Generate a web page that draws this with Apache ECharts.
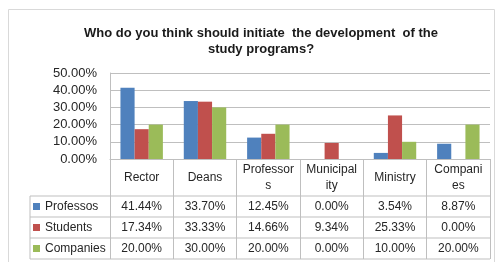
<!DOCTYPE html>
<html>
<head>
<meta charset="utf-8">
<script src="https://cdn.jsdelivr.net/npm/echarts@6/dist/echarts.min.js"></script>
<style>
html, body { margin: 0; padding: 0; background: #fff; }
#chart { width: 495px; height: 262px; }
</style>
</head>
<body>
<div id="chart"></div>
<script>
const categories = ['Rector', 'Deans', 'Professor\ns', 'Municipal\nity', 'Ministry', 'Compani\nes'];
const seriesNames = ['Professos', 'Students', 'Companies'];
const professos = [41.44, 33.70, 12.45, 0.00, 3.54, 8.87];
const students = [17.34, 33.33, 14.66, 9.34, 25.33, 0.00];
const companies = [20.00, 30.00, 20.00, 0.00, 10.00, 20.00];
const yTicks = [0, 10, 20, 30, 40, 50];

const colors = ['#4f81bd', '#c0504d', '#9bbb59'];
const lineColor = '#bfbfbf';
const textColor = '#262626';
const font = 'Liberation Sans';

// layout of plot + table
const gridLeft = 110, gridRight = 5, gridTop = 73, gridBottomY = 159;
const headerH = 37, rowH = 21, tableLeft = 30;
const rowsTop = gridBottomY + headerH;
const tableBottom = rowsTop + rowH * 3;

const rows = [professos, students, companies];

var chart = echarts.init(document.getElementById('chart'));

// one extra x axis per table row, carrying the values as labels
var rowAxes = rows.map(function (vals, i) {
	return {
		type: 'category',
		gridIndex: 0,
		position: 'bottom',
		data: categories,
		axisLine: { show: false },
		axisTick: { show: false },
		axisLabel: {
			interval: 0,
			margin: headerH + rowH * i + rowH / 2,
			verticalAlign: 'middle',
			fontFamily: font,
			fontSize: 12,
			color: textColor,
			formatter: function (v, idx) { return vals[idx].toFixed(2) + '%'; }
		}
	};
});

var hLines = [];
for (var r = 0; r <= 3; r++) {
	hLines.push({
		type: 'line',
		shape: { x1: tableLeft, y1: rowsTop + r * rowH, x2: 495 - gridRight, y2: rowsTop + r * rowH },
		style: { stroke: lineColor, lineWidth: 1 }
	});
}
hLines.push({
	type: 'line',
	shape: { x1: tableLeft, y1: rowsTop, x2: tableLeft, y2: tableBottom },
	style: { stroke: lineColor, lineWidth: 1 }
});
hLines.push({
	type: 'rect',
	shape: { x: 8.5, y: 9.5, width: 486, height: 260 },
	style: { fill: 'none', stroke: '#d9d9d9', lineWidth: 1 }
});

var option = {
	animation: false,
	color: colors,
	title: {
		text: 'Who do you think should initiate  the development  of the\nstudy programs?',
		left: 256,
		textAlign: 'center',
		top: 20,
		textStyle: {
			fontFamily: font,
			fontSize: 13,
			fontWeight: 'bold',
			color: '#1a1a1a',
			lineHeight: 16
		}
	},
	legend: {
		data: seriesNames,
		orient: 'vertical',
		left: tableLeft + 3,
		top: rowsTop,
		padding: 0,
		itemGap: 0,
		itemWidth: 7,
		itemHeight: 7,
		icon: 'rect',
		textStyle: { fontFamily: font, fontSize: 12, color: textColor, lineHeight: rowH }
	},
	grid: {
		left: gridLeft,
		right: gridRight,
		top: gridTop,
		bottom: 262 - gridBottomY
	},
	xAxis: [{
		type: 'category',
		data: categories,
		axisLine: { lineStyle: { color: lineColor } },
		axisTick: { show: true, interval: 0, length: tableBottom - gridBottomY, lineStyle: { color: lineColor } },
		axisLabel: {
			interval: 0,
			margin: headerH / 2,
			verticalAlign: 'middle',
			fontFamily: font,
			fontSize: 12,
			lineHeight: 16,
			color: textColor
		}
	}].concat(rowAxes),
	yAxis: {
		type: 'value',
		min: yTicks[0],
		max: yTicks[yTicks.length - 1],
		interval: 10,
		axisLine: { show: true, lineStyle: { color: lineColor } },
		axisTick: { show: false },
		splitLine: { lineStyle: { color: lineColor } },
		axisLabel: {
			fontFamily: font,
			fontSize: 13,
			color: textColor,
			margin: 13,
			formatter: function (v) { return v.toFixed(2) + '%'; }
		}
	},
	series: rows.map(function (vals, i) {
		return {
			name: seriesNames[i],
			type: 'bar',
			data: vals,
			barGap: '0%',
			barCategoryGap: '33%'
		};
	}),
	graphic: hLines
};

chart.setOption(option);
</script>
</body>
</html>
